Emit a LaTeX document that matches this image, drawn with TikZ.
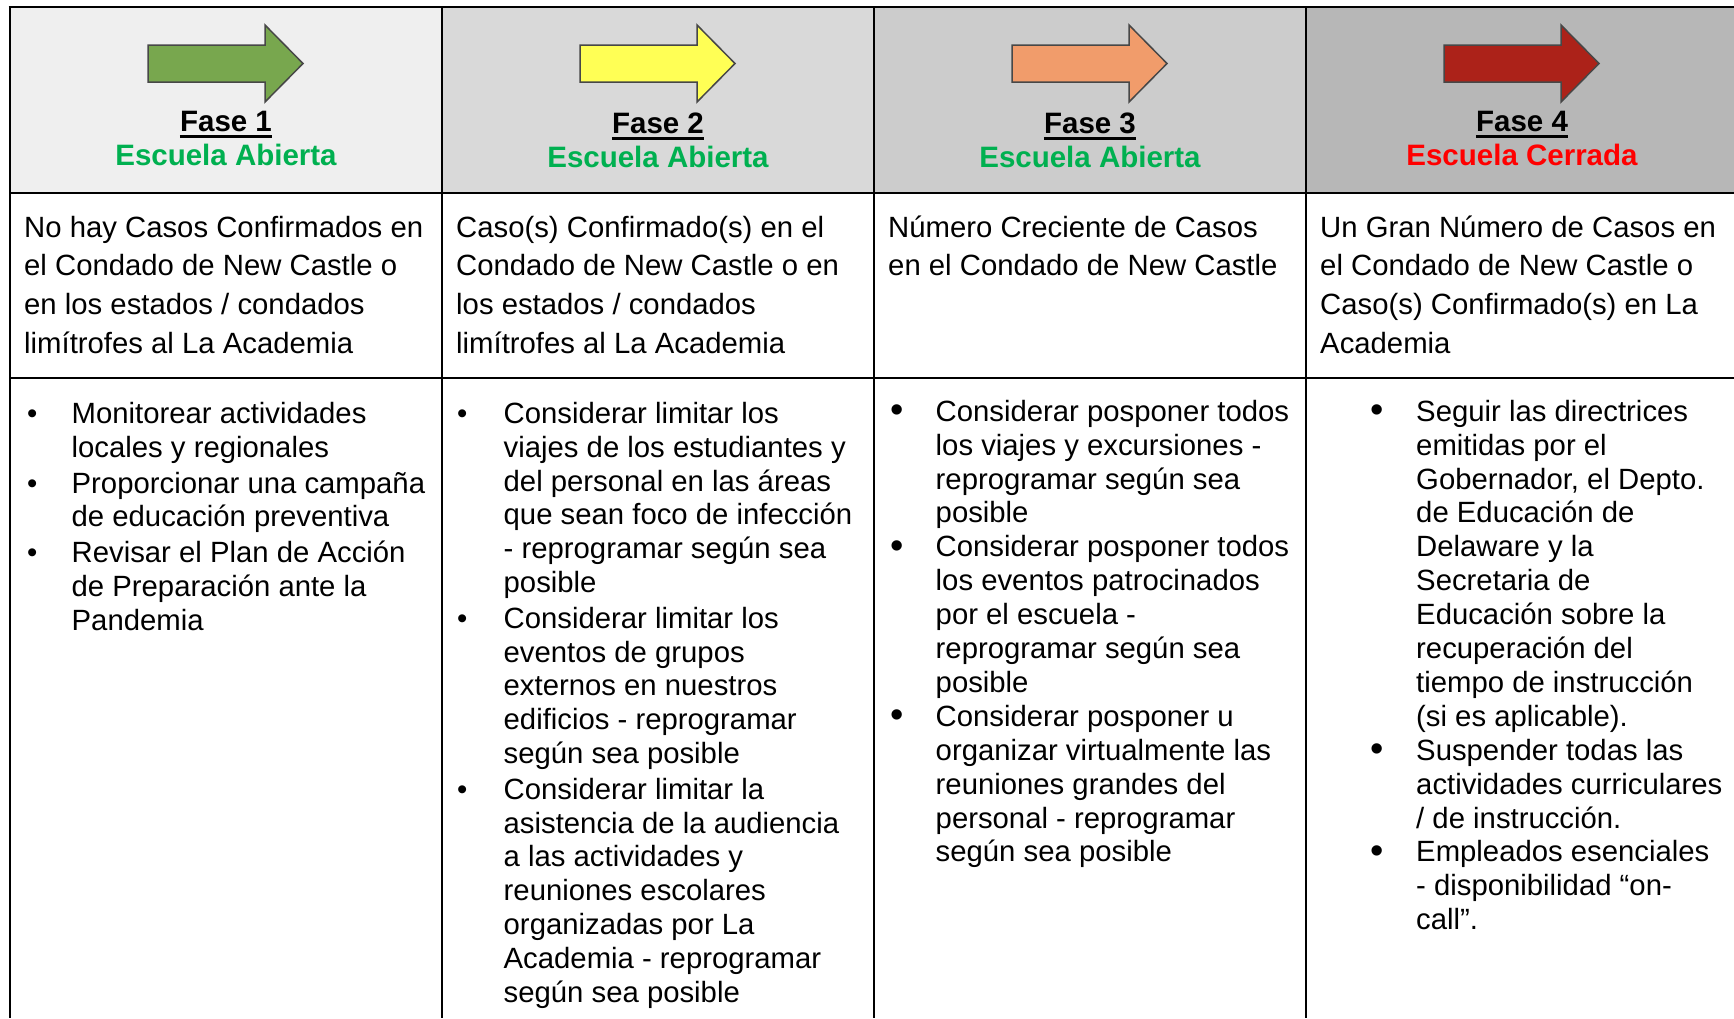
\documentclass[tikz,border=0pt]{standalone}
\usepackage{fontspec}
\setmainfont{Liberation Sans}
\usepackage{array}
\definecolor{hdA}{HTML}{EFEFEF}
\definecolor{hdB}{HTML}{D9D9D9}
\definecolor{hdC}{HTML}{CCCCCC}
\definecolor{hdD}{HTML}{B7B7B7}
\definecolor{arA}{HTML}{78A74E}
\definecolor{arB}{HTML}{FFFF55}
\definecolor{arC}{HTML}{F19C6B}
\definecolor{arD}{HTML}{AC2219}
\definecolor{escgreen}{HTML}{00B050}
\definecolor{escred}{HTML}{FF0000}
\newcommand{\mybul}{\raisebox{0pt}{•}}
\newcommand{\mybig}{\raisebox{-1.5pt}{\fontsize{38}{34}\selectfont •}}
\tikzset{
  tline/.style={line width=2.8pt, black},
  hdrtext/.style={font=\bfseries\fontsize{29.5}{34}\selectfont, inner sep=0pt, anchor=base},
  celltext/.style={font=\fontsize{29.3}{38.7}\selectfont, inner sep=0pt, align=left, anchor=north west},
  blist/.style={font=\fontsize{29.3}{33.9}\selectfont, inner sep=0pt, anchor=north west},
  arrowshape/.style={draw=black!72, line width=1.5pt, line join=miter},
  uline/.style={line width=3pt, black},
}
\begin{document}
\begin{tikzpicture}[x=1pt,y=-1pt]
\useasboundingbox (0,0) rectangle (1734,1018);
\fill[white] (0,0) rectangle (1734,1018);
% header fills
\fill[hdA] (10,7) rectangle (442,193);
\fill[hdB] (442,7) rectangle (874,193);
\fill[hdC] (874,7) rectangle (1306,193);
\fill[hdD] (1306,7) rectangle (1734,193);
% arrows
\foreach \c/\col in {10/arA,442/arB,874/arC,1306/arD}{
  \draw[arrowshape, fill=\col] ({\c+138},45) -- ({\c+255},45) -- ({\c+255},25) -- ({\c+293},63.5)
     -- ({\c+255},102) -- ({\c+255},82) -- ({\c+138},82) -- cycle;
}
% header texts
\node[hdrtext] (f1) at (226,131) {Fase 1};
\node[hdrtext, text=escgreen] (e1) at (226,165) {Escuela Abierta};
\node[hdrtext] (f2) at (658,133) {Fase 2};
\node[hdrtext, text=escgreen] (e2) at (658,167) {Escuela Abierta};
\node[hdrtext] (f3) at (1090,133) {Fase 3};
\node[hdrtext, text=escgreen] (e3) at (1090,167) {Escuela Abierta};
\node[hdrtext] (f4) at (1522,131) {Fase 4};
\node[hdrtext, text=escred] (e4) at (1522,165) {Escuela Cerrada};
\foreach \n in {f1,f2,f3,f4}{
  \draw[uline] ([yshift=-5pt]\n.base west) -- ([yshift=-5pt]\n.base east);
}
% row 2
\node[celltext] (r1) at (24,209.9) {\strut No hay Casos Confirmados en\\el Condado de New Castle o\\en los estados / condados\\limítrofes al La Academia};
\node[celltext] (r2) at (456,209.9) {\strut Caso(s) Confirmado(s) en el\\Condado de New Castle o en\\los estados / condados\\limítrofes al La Academia};
\node[celltext] (r3) at (888,209.9) {\strut Número Creciente de Casos\\en el Condado de New Castle};
\node[celltext] (r4) at (1320,209.9) {\strut Un Gran Número de Casos en\\el Condado de New Castle o\\Caso(s) Confirmado(s) en La\\Academia};
% row 3
\node[blist] (b1) at (27,399.3) {\begin{tabular}{@{}p{44.5pt}@{}l@{}}
\mybul & Monitorear actividades\\
 & locales y regionales\\[2pt]
\mybul & Proporcionar una campaña\\
 & de educación preventiva\\[2pt]
\mybul & Revisar el Plan de Acción\\
 & de Preparación ante la\\
 & Pandemia
\end{tabular}};
\node[blist] (b2) at (457,399.3) {\begin{tabular}{@{}p{46.5pt}@{}l@{}}
\mybul & Considerar limitar los\\
 & viajes de los estudiantes y\\
 & del personal en las áreas\\
 & que sean foco de infección\\
 & - reprogramar según sea\\
 & posible\\[1.5pt]
\mybul & Considerar limitar los\\
 & eventos de grupos\\
 & externos en nuestros\\
 & edificios - reprogramar\\
 & según sea posible\\[1.5pt]
\mybul & Considerar limitar la\\
 & asistencia de la audiencia\\
 & a las actividades y\\
 & reuniones escolares\\
 & organizadas por La\\
 & Academia - reprogramar\\
 & según sea posible
\end{tabular}};
\node[blist] (b3) at (890,397.3) {\begin{tabular}{@{}p{45.5pt}@{}l@{}}
\mybig & Considerar posponer todos\\
 & los viajes y excursiones -\\
 & reprogramar según sea\\
 & posible\\
\mybig & Considerar posponer todos\\
 & los eventos patrocinados\\
 & por el escuela -\\
 & reprogramar según sea\\
 & posible\\
\mybig & Considerar posponer u\\
 & organizar virtualmente las\\
 & reuniones grandes del\\
 & personal - reprogramar\\
 & según sea posible
\end{tabular}};
\node[blist] (b4) at (1370,397.3) {\begin{tabular}{@{}p{46pt}@{}l@{}}
\mybig & Seguir las directrices\\
 & emitidas por el\\
 & Gobernador, el Depto.\\
 & de Educación de\\
 & Delaware y la\\
 & Secretaria de\\
 & Educación sobre la\\
 & recuperación del\\
 & tiempo de instrucción\\
 & (si es aplicable).\\
\mybig & Suspender todas las\\
 & actividades curriculares\\
 & / de instrucción.\\
\mybig & Empleados esenciales\\
 & - disponibilidad “on-\\
 & call”.
\end{tabular}};
% grid lines
\draw[tline] (8.6,7) -- (1734,7);
\draw[tline] (10,193) -- (1734,193);
\draw[tline] (10,378) -- (1734,378);
\foreach \xx in {10,442,874,1306}{
  \draw[tline] (\xx,7) -- (\xx,1018);
}
\end{tikzpicture}
\end{document}
